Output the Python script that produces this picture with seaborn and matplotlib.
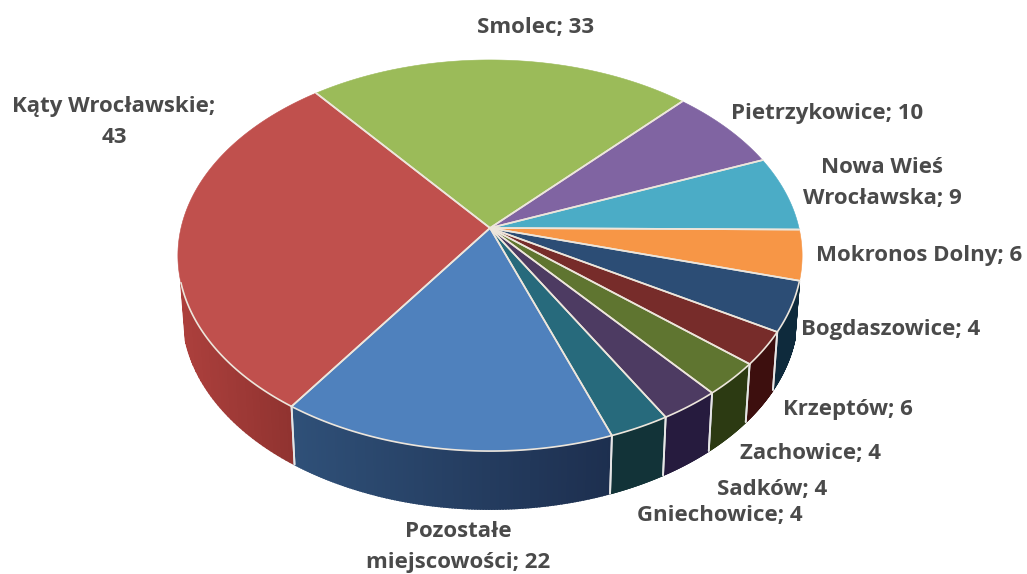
import numpy as np
import matplotlib
matplotlib.use("Agg")
import matplotlib.pyplot as plt
from matplotlib.colors import to_rgb
from matplotlib.patches import Polygon
import seaborn as sns

# labels as printed, placed next to the slices the way the picture has them
names = ["Kąty Wrocławskie;\n43", "Smolec; 33", "Pietrzykowice; 10", "Nowa Wieś\nWrocławska; 9",
         "Mokronos Dolny; 6", "Bogdaszowice; 4", "Krzeptów; 6", "Zachowice; 4",
         "Sadków; 4", "Gniechowice; 4", "Pozostałe\nmiejscowości; 22"]
label_x = [114, 536, 827, 882, 919, 891, 848, 810, 772, 720, 458]
label_y = [122, 27, 113, 183, 255, 329, 409, 453, 489, 515, 547]

# slice sizes clockwise from the red one, the drawn navy slice is the wide 6 one
values = [43, 33, 10, 9, 6, 6, 4, 4, 4, 4, 22]
top_colors = ["#C0504D", "#9BBB59", "#8064A2", "#4BACC6", "#F79646", "#2C4D75",
              "#772C2A", "#5F7530", "#4D3B62", "#276A7C", "#4F81BD"]
side_left = ["#AD403D", "#6F8A3C", "#58456F", "#2F7A8E", "#B56A2B", "#0E2A3C",
             "#3D0F0E", "#2C3A12", "#261B3E", "#123338", "#2F5078"]
side_right = ["#8A302D", "#6F8A3C", "#58456F", "#2F7A8E", "#B56A2B", "#0E2A3C",
              "#3D0F0E", "#2C3A12", "#261B3E", "#123338", "#1D2F4F"]

# perspective of the tilted disc, in pixels
CX, CY = 490, 228
A, B, K = 309, 159.6, 0.1407
DEPTH = 58
LEAN = 0.985
LINE = "#EDE6DC"
SIDE_FROM = -0.27  # the wall only shows below this sine


def project(theta):
    x, y = np.cos(np.radians(theta)), np.sin(np.radians(theta))
    w = 1 + K * y
    return CX + A * x / w, (CY - B * y) / w


sns.set_theme(style="white")
plt.rcParams["font.family"] = ["Open Sans", "DejaVu Sans"]

fig = plt.figure(figsize=(10.27, 5.74), dpi=100)
ax = fig.add_axes([0, 0, 1, 1])

wedges, _ = ax.pie(values, startangle=235.4, counterclock=False, colors=top_colors)
ax.set_aspect("auto")
ax.set_xlim(0, 1027)
ax.set_ylim(574, 0)
ax.axis("off")

arcs = []
for w in wedges:
    arcs.append(np.linspace(w.theta1, w.theta2, 120))
    w.remove()

# side wall first, the top surface covers the back of it
for arc, c1, c2 in zip(arcs, side_left, side_right):
    c1, c2 = np.array(to_rgb(c1)), np.array(to_rgb(c2))
    px, py = project(arc)
    qx, qy = CX + (px - CX) * LEAN, py + DEPTH
    rank = (px - px.min()) / (px.max() - px.min())
    sines = np.sin(np.radians(arc))
    for i in range(len(arc) - 1):
        if sines[i] > SIDE_FROM or sines[i + 1] > SIDE_FROM:
            continue
        col = c1 + (c2 - c1) * rank[i]
        quad = [(px[i], py[i]), (px[i + 1], py[i + 1]), (qx[i + 1], qy[i + 1]), (qx[i], qy[i])]
        ax.add_patch(Polygon(quad, facecolor=col, edgecolor=col, lw=1.2, zorder=2))
    for j in (0, -1):
        if sines[j] < SIDE_FROM - 0.02:
            ax.plot([px[j], qx[j]], [py[j], qy[j]], color="#E6E6E6", lw=1.3, zorder=3)

for arc, col in zip(arcs, top_colors):
    px, py = project(arc)
    pts = [(CX, CY)] + list(zip(px, py))
    ax.add_patch(Polygon(pts, facecolor=col, edgecolor=col, lw=0.4, zorder=4))

# light lines between the slices and along the front rim
for arc in arcs:
    px, py = project(arc)
    ax.plot([CX, px[0]], [CY, py[0]], color=LINE, lw=1.2, zorder=5)
    ax.plot([CX, px[-1]], [CY, py[-1]], color=LINE, lw=1.2, zorder=5)
    front = np.sin(np.radians(arc)) < SIDE_FROM
    ax.plot(px[front], py[front], color=LINE, lw=1.2, zorder=5)

for name, x, y in zip(names, label_x, label_y):
    ax.text(x, y, name, ha="center", va="center", fontsize=16, fontweight="bold",
            color="#4A4A4A", linespacing=1.58, zorder=6)

fig.savefig("out.png", dpi=100)
